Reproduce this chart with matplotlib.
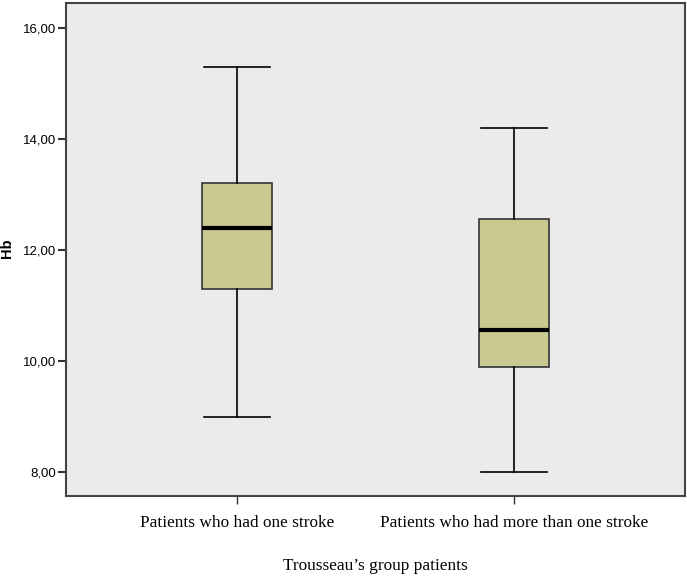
import matplotlib.pyplot as plt
import numpy as np

# values
groups = ["Patients who had one stroke", "Patients who had more than one stroke"]
whisker_low = [9.0, 8.0]
q1 = [11.3, 9.9]
median = [12.4, 10.55]
q3 = [13.2, 12.55]
whisker_high = [15.3, 14.2]
y_ticks = [8, 10, 12, 14, 16]

stats = []
for i in range(len(groups)):
    stats.append({
        "whislo": whisker_low[i],
        "q1": q1[i],
        "med": median[i],
        "q3": q3[i],
        "whishi": whisker_high[i],
        "fliers": [],
    })

fig = plt.figure(figsize=(6.87, 5.78), dpi=100)
ax = fig.add_axes([0.0961, 0.142, 0.901, 0.853])
ax.set_facecolor("#ebebeb")

ax.bxp(
    stats,
    positions=[1, 2],
    widths=0.253,
    patch_artist=True,
    showfliers=False,
    boxprops=dict(facecolor="#c9c991", edgecolor="#333333", linewidth=1.2),
    medianprops=dict(color="black", linewidth=3),
    whiskerprops=dict(color="black", linewidth=1.2),
    capprops=dict(color="black", linewidth=1.2),
    capwidths=0.24,
)

ax.set_xlim(0.383, 2.617)
ax.set_ylim(7.57, 16.45)
ax.set_yticks(y_ticks)
ax.set_yticklabels(["%d,00" % v for v in y_ticks], fontsize=9.5, family="Liberation Sans")
ax.set_xticks([1, 2])
ax.set_xticklabels(groups, fontsize=12.4, family="Liberation Serif")
ax.tick_params(axis="y", length=6, width=1.5, color="#333333", pad=1)
ax.tick_params(axis="x", length=6, width=1, color="#333333", pad=8)

for s in ax.spines.values():
    s.set_color("#444444")
    s.set_linewidth(1.5)

fig.text(7 / 687, 1 - 248 / 578, "Hb", rotation=90, ha="center", va="center",
         fontsize=10.5, fontweight="bold", family=["Liberation Sans", "DejaVu Sans"])
ax.set_xlabel("Trousseau\u2019s group patients", fontsize=12.4, family="Liberation Serif", labelpad=19)

fig.savefig("out.png", dpi=100, facecolor="white")
